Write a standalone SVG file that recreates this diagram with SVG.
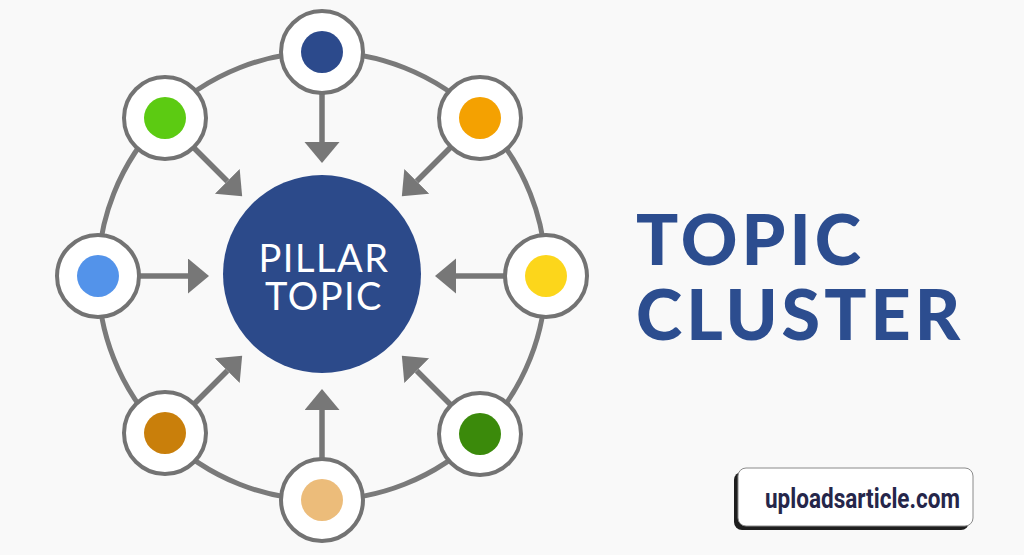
<svg xmlns="http://www.w3.org/2000/svg" width="1024" height="555" viewBox="0 0 1024 555">
<defs>
<marker id="ah" markerUnits="userSpaceOnUse" markerWidth="40" markerHeight="40" refX="0" refY="17.5" orient="auto" viewBox="0 0 40 40">
<path d="M0,0 L21,17.5 L0,35 Z" fill="#777777"/>
</marker>
<style>
.ring{fill:none;stroke:#7a7a7a;stroke-width:5}
.node{fill:#ffffff;stroke:#737373;stroke-width:4}
.arr{stroke:#777777;stroke-width:5.5;fill:none}
.pill{font-family:Lato,"Open Sans",sans-serif;font-size:38px;fill:#ffffff;letter-spacing:1.5px;text-anchor:middle}
.title{font-family:Lato,"Open Sans",sans-serif;font-weight:900;font-size:70px;fill:#2c4d8f;letter-spacing:4px}
.wm{font-family:Roboto,"DejaVu Sans",sans-serif;font-weight:bold;font-size:27px;fill:#25264a}
</style>
</defs>
<rect width="1024" height="555" fill="#f9f9f9"/>
<g id="connectors">
<circle class="ring" cx="322" cy="276" r="224"/>
<line class="arr" x1="322" y1="94" x2="322" y2="142" marker-end="url(#ah)"/>
<line class="arr" x1="322" y1="458" x2="322" y2="410" marker-end="url(#ah)"/>
<line class="arr" x1="140" y1="276" x2="188" y2="276" marker-end="url(#ah)"/>
<line class="arr" x1="504" y1="276" x2="456" y2="276" marker-end="url(#ah)"/>
<line class="arr" x1="193.3" y1="147.3" x2="227.3" y2="181.3" marker-end="url(#ah)"/>
<line class="arr" x1="450.7" y1="147.3" x2="416.7" y2="181.3" marker-end="url(#ah)"/>
<line class="arr" x1="193.3" y1="404.7" x2="227.3" y2="370.7" marker-end="url(#ah)"/>
<line class="arr" x1="450.7" y1="404.7" x2="416.7" y2="370.7" marker-end="url(#ah)"/>
</g>
<g id="pillar">
<circle cx="322" cy="274" r="99" fill="#2c4a8a"/>
<text class="pill" x="324" y="272">PILLAR</text>
<text class="pill" x="324" y="310">TOPIC</text>
</g>
<g id="n-top"><circle class="node" cx="322" cy="52" r="41"/><circle cx="322" cy="52" r="21" fill="#2c4a8c"/></g>
<g id="n-topright"><circle class="node" cx="480" cy="118" r="41"/><circle cx="480" cy="118" r="21" fill="#f4a101"/></g>
<g id="n-right"><circle class="node" cx="546" cy="276" r="41"/><circle cx="546" cy="276" r="21" fill="#fcd61b"/></g>
<g id="n-bottomright"><circle class="node" cx="480" cy="434" r="41"/><circle cx="480" cy="434" r="21" fill="#3b8a0b"/></g>
<g id="n-bottom"><circle class="node" cx="322" cy="500" r="41"/><circle cx="322" cy="500" r="21" fill="#ecbc7a"/></g>
<g id="n-bottomleft"><circle class="node" cx="165" cy="433" r="41"/><circle cx="165" cy="433" r="21" fill="#c97f0b"/></g>
<g id="n-left"><circle class="node" cx="98" cy="276" r="41"/><circle cx="98" cy="276" r="21" fill="#5393ea"/></g>
<g id="n-topleft"><circle class="node" cx="165" cy="118" r="41"/><circle cx="165" cy="118" r="21" fill="#5ccb12"/></g>
<g id="title">
<text class="title" x="636" y="265">TOPIC</text>
<text class="title" x="636" y="340">CLUSTER</text>
</g>
<g id="watermark">
<rect x="734" y="472" width="235" height="58" rx="8" fill="#1e1e1e"/>
<rect x="738" y="468" width="235" height="58" rx="8" fill="#ffffff" stroke="#8a8a8a" stroke-width="1"/>
<text class="wm" x="765" y="508" textLength="195" lengthAdjust="spacingAndGlyphs">uploadsarticle.com</text>
</g>
</svg>
